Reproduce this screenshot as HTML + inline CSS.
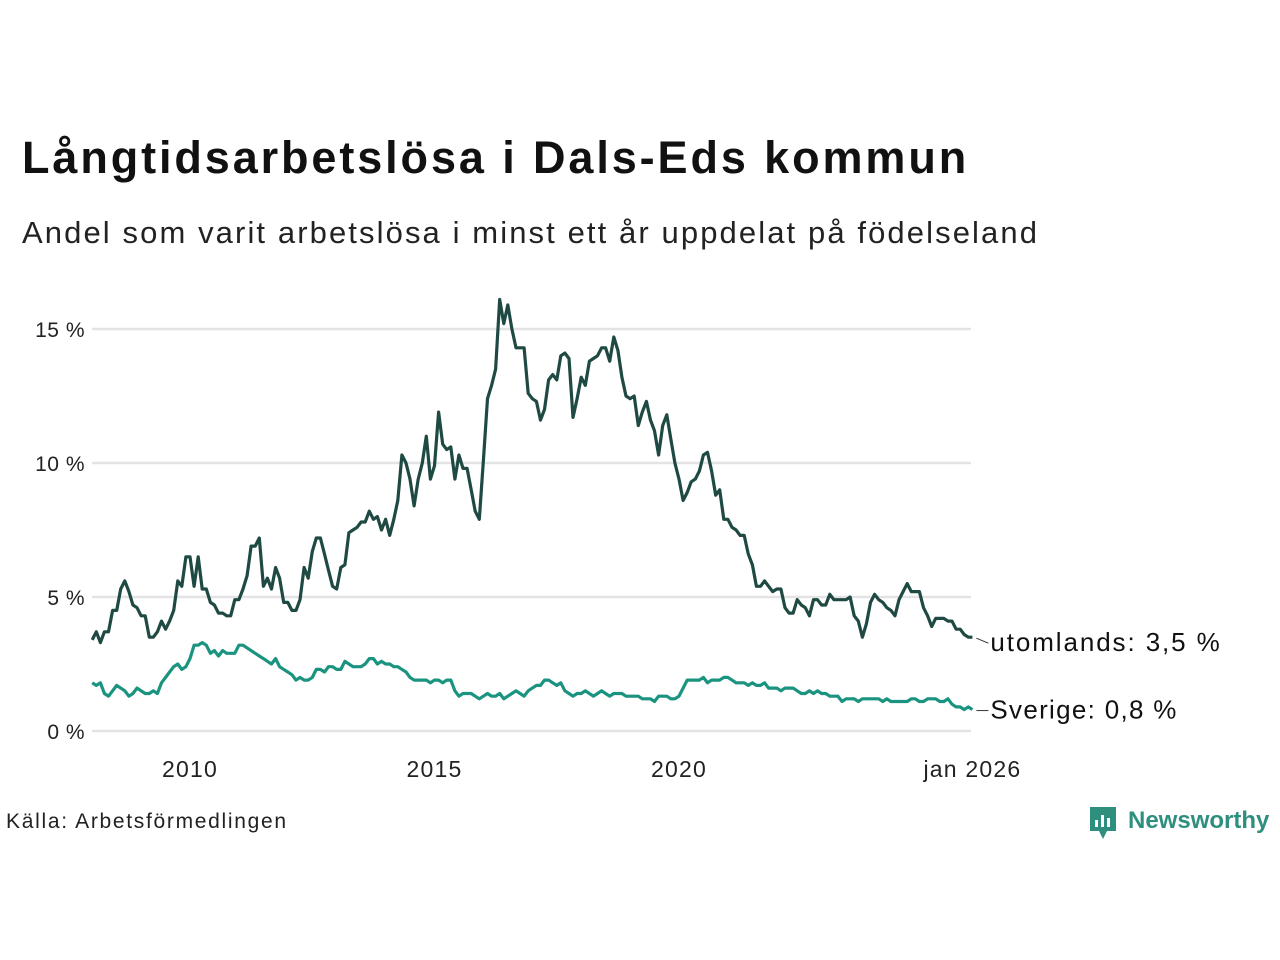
<!DOCTYPE html>
<html><head><meta charset="utf-8"><style>
body{margin:0;width:1280px;height:960px;background:#fff;font-family:"Liberation Sans",sans-serif;overflow:hidden;position:relative}
.t{position:absolute;left:22px;top:132px;font-size:45px;font-weight:bold;color:#111;margin:0;letter-spacing:2.9px}
.s{position:absolute;left:22px;top:215px;font-size:31px;color:#222;letter-spacing:2.1px}
.src{position:absolute;left:6px;top:810px;font-size:21px;color:#222;letter-spacing:1.7px}
</style></head><body>
<h1 class="t">Långtidsarbetslösa i Dals-Eds kommun</h1>
<div class="s">Andel som varit arbetslösa i minst ett år uppdelat på födelseland</div>
<div class="src">Källa: Arbetsförmedlingen</div>
<svg width="1280" height="960" style="position:absolute;left:0;top:0">
<g id="grid"></g><g id="lines"></g>
<g>
<path d="M1090 807 h26 v24 h-9 l-4 8 l-4 -8 h-9z" fill="#2f8f7f"/>
<rect x="1095" y="820" width="3" height="7" fill="#fff"/><rect x="1101" y="815" width="3" height="12" fill="#fff"/><rect x="1107" y="818" width="3" height="9" fill="#fff"/>
<text x="1128" y="828" font-size="24" font-weight="bold" fill="#2f8f7f" font-family="Liberation Sans, sans-serif">Newsworthy</text>
</g>
</svg>
<script>
const yTicks=[0,5,10,15];
const yTickLabels=["0 %","5 %","10 %","15 %"];
const xTicks=[2010,2015,2020,2026];
const xTickLabels=["2010","2015","2020","jan 2026"];
const utomlands=[3.4,3.7,3.3,3.7,3.7,4.5,4.5,5.3,5.6,5.2,4.7,4.6,
4.3,4.3,3.5,3.5,3.7,4.1,3.8,4.1,4.5,5.6,5.4,6.5,
6.5,5.4,6.5,5.3,5.3,4.8,4.7,4.4,4.4,4.3,4.3,4.9,
4.9,5.3,5.8,6.9,6.9,7.2,5.4,5.7,5.3,6.1,5.7,4.8,
4.8,4.5,4.5,4.9,6.1,5.7,6.7,7.2,7.2,6.6,6.0,5.4,
5.3,6.1,6.2,7.4,7.5,7.6,7.8,7.8,8.2,7.9,8.0,7.5,
7.9,7.3,7.9,8.6,10.3,10.0,9.4,8.4,9.4,10.0,11.0,9.4,
9.9,11.9,10.7,10.5,10.6,9.4,10.3,9.8,9.8,9.0,8.2,7.9,
10.1,12.4,12.9,13.5,16.1,15.2,15.9,15.0,14.3,14.3,14.3,12.6,
12.4,12.3,11.6,12.0,13.1,13.3,13.1,14.0,14.1,13.9,11.7,12.4,
13.2,12.9,13.8,13.9,14.0,14.3,14.3,13.8,14.7,14.2,13.2,12.5,
12.4,12.5,11.4,11.9,12.3,11.6,11.2,10.3,11.4,11.8,10.9,10.0,
9.4,8.6,8.9,9.3,9.4,9.7,10.3,10.4,9.7,8.8,9.0,7.9,
7.9,7.6,7.5,7.3,7.3,6.6,6.2,5.4,5.4,5.6,5.4,5.2,
5.3,5.3,4.6,4.4,4.4,4.9,4.7,4.6,4.3,4.9,4.9,4.7,
4.7,5.1,4.9,4.9,4.9,4.9,5.0,4.3,4.1,3.5,4.0,4.8,
5.1,4.9,4.8,4.6,4.5,4.3,4.9,5.2,5.5,5.2,5.2,5.2,
4.6,4.3,3.9,4.2,4.2,4.2,4.1,4.1,3.8,3.8,3.6,3.5,3.5];
const sverige=[1.8,1.7,1.8,1.4,1.3,1.5,1.7,1.6,1.5,1.3,1.4,1.6,
1.5,1.4,1.4,1.5,1.4,1.8,2.0,2.2,2.4,2.5,2.3,2.4,
2.7,3.2,3.2,3.3,3.2,2.9,3.0,2.8,3.0,2.9,2.9,2.9,
3.2,3.2,3.1,3.0,2.9,2.8,2.7,2.6,2.5,2.7,2.4,2.3,
2.2,2.1,1.9,2.0,1.9,1.9,2.0,2.3,2.3,2.2,2.4,2.4,
2.3,2.3,2.6,2.5,2.4,2.4,2.4,2.5,2.7,2.7,2.5,2.6,
2.5,2.5,2.4,2.4,2.3,2.2,2.0,1.9,1.9,1.9,1.9,1.8,
1.9,1.9,1.8,1.9,1.9,1.5,1.3,1.4,1.4,1.4,1.3,1.2,
1.3,1.4,1.3,1.3,1.4,1.2,1.3,1.4,1.5,1.4,1.3,1.5,
1.6,1.7,1.7,1.9,1.9,1.8,1.7,1.8,1.5,1.4,1.3,1.4,
1.4,1.5,1.4,1.3,1.4,1.5,1.4,1.3,1.4,1.4,1.4,1.3,
1.3,1.3,1.3,1.2,1.2,1.2,1.1,1.3,1.3,1.3,1.2,1.2,
1.3,1.6,1.9,1.9,1.9,1.9,2.0,1.8,1.9,1.9,1.9,2.0,
2.0,1.9,1.8,1.8,1.8,1.7,1.8,1.7,1.7,1.8,1.6,1.6,
1.6,1.5,1.6,1.6,1.6,1.5,1.4,1.4,1.5,1.4,1.5,1.4,
1.4,1.3,1.3,1.3,1.1,1.2,1.2,1.2,1.1,1.2,1.2,1.2,
1.2,1.2,1.1,1.2,1.1,1.1,1.1,1.1,1.1,1.2,1.2,1.1,
1.1,1.2,1.2,1.2,1.1,1.1,1.2,1.0,0.9,0.9,0.8,0.9,0.8];
const startYear=2008;
const NS='http://www.w3.org/2000/svg';
const X=t=>190+(t-2010)*48.9;
const Y=v=>731-v*26.8;
const grid=document.getElementById('grid'),lines=document.getElementById('lines');
function mk(tag,attrs,parent){const e=document.createElementNS(NS,tag);for(const k in attrs)e.setAttribute(k,attrs[k]);parent.appendChild(e);return e;}
yTicks.forEach((v,i)=>{
  const l=mk('line',{x1:92,x2:971,y1:Y(v),y2:Y(v),stroke:'#e3e3e6','stroke-width':2.5},grid);
  
  
  const t=mk('text',{x:85,y:Y(v)+8,'text-anchor':'end','font-size':21,'letter-spacing':0.5,fill:'#222'},grid);
  t.textContent=yTickLabels[i];
  
  
});
xTicks.forEach((v,i)=>{
  const t=mk('text',{x:X(v),y:777,'text-anchor':'middle','font-size':23,'letter-spacing':1.2,fill:'#222'},grid);
  t.textContent=xTickLabels[i];
  
  
});
function series(arr,color,name,label,ls){
  const pts=arr.map((v,i)=>X(startYear+i/12).toFixed(1)+','+Y(v).toFixed(1)).join(' ');
  const p=mk('polyline',{points:pts,fill:'none',stroke:color,'stroke-width':3.2,'stroke-linejoin':'round'},lines);
  
  
  const last=arr[arr.length-1],lx=X(startYear+(arr.length-1)/12);
  let ly=Y(last)+(name==='line-utomlands'?5:0);
  mk('line',{x1:lx+4,x2:lx+16,y1:Y(last)+1,y2:ly+1,stroke:'#333','stroke-width':1},lines);
  const t=mk('text',{x:lx+18,y:ly+9,'font-size':26,'letter-spacing':ls,fill:'#111'},lines);
  t.textContent=label+': '+String(last).replace('.',',')+' %';
  
  
}
series(sverige,'#1a9480','line-sverige','Sverige',1.3);
series(utomlands,'#1f4a43','line-utomlands','utomlands',1.9);
</script>
</body></html>
